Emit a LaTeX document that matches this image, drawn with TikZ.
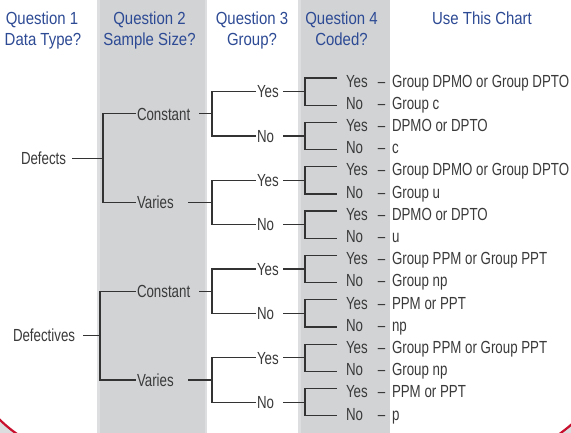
\documentclass[tikz,border=0pt]{standalone}
\usepackage{fontspec}
\setmainfont{Liberation Sans}[FakeStretch=0.76]
\newfontfamily\hdfont{Liberation Sans}[FakeStretch=0.855]
\definecolor{txt}{HTML}{3A3A3A}
\definecolor{lncol}{HTML}{333333}
\definecolor{hdblue}{HTML}{2D4A94}
\definecolor{colgray}{HTML}{D1D3D5}
\definecolor{coledge}{HTML}{DDDEE0}
\definecolor{cred}{HTML}{C8102E}
\definecolor{cornergray}{HTML}{DCDDDF}
\tikzset{
  lbl/.style={anchor=west, inner sep=0pt, outer sep=0pt, text height=12.5pt, text depth=0pt,
              font=\fontsize{17.5}{20}\selectfont, text=txt},
  dashlbl/.style={lbl, anchor=center},
  hd/.style={inner sep=0pt, outer sep=0pt, text height=12.5pt, text depth=0pt,
             font=\hdfont\fontsize{17.5}{20}\selectfont, text=hdblue},
  ln/.style={draw=lncol, line width=1.2pt}
}
\begin{document}
\begin{tikzpicture}[x=1pt,y=-1pt]
\useasboundingbox (0,0) rectangle (571,432);
\begin{scope}
\clip (0,0) rectangle (571,432);
% shaded columns
\fill[colgray] (97,-5) rectangle (207,440);
\fill[coledge] (97,-5) rectangle (99.5,440);
\fill[coledge] (204.5,-5) rectangle (207,440);
\fill[colgray] (298,-5) rectangle (390,440);
\fill[coledge] (298,-5) rectangle (300.5,440);
% red rounded border corners
\fill[cornergray] (-3,417) .. controls (5,425) and (11,430) .. (20,436) -- (-3,436) -- cycle;
\draw[cred, line width=2.2pt] (-3,417) .. controls (5,425) and (11,430) .. (20,436);
\fill[cornergray] (557,436) .. controls (563,431) and (568,428) .. (574,422) -- (574,436) -- cycle;
\draw[cred, line width=2.2pt] (557,436) .. controls (563,431) and (568,428) .. (574,422);
\end{scope}
% headers
\node[hd] (h1a) at (42,18) {Question 1};
\node[hd] (h1b) at (43,39) {Data Type?};
\node[hd] (h2a) at (149.5,18) {Question 2};
\node[hd] (h2b) at (149.5,39) {Sample Size?};
\node[hd] (h3a) at (252,18) {Question 3};
\node[hd] (h3b) at (252,39) {Group?};
\node[hd] (h4a) at (341.5,18) {Question 4};
\node[hd] (h4b) at (341.5,39) {Coded?};
\node[hd] (h5) at (482,18) {Use This Chart};
% Question 4 level and charts
\foreach \i/\ctop/\cbot in {0/Group DPMO or Group DPTO/Group c, 1/DPMO or DPTO/c,
    2/Group DPMO or Group DPTO/Group u, 3/DPMO or DPTO/u,
    4/Group PPM or Group PPT/Group np, 5/PPM or PPT/np,
    6/Group PPM or Group PPT/Group np, 7/PPM or PPT/p}{
  \pgfmathsetmacro\ya{81+44.35*\i}
  \pgfmathsetmacro\yb{\ya+22.3}
  \pgfmathsetmacro\ym{\ya+10.65}
  \node[lbl] (q4y\i) at (346,\ya) {Yes};
  \node[lbl] (q4n\i) at (346,\yb) {No};
  \node[dashlbl] (dy\i) at (381.5,\ya) {–};
  \node[dashlbl] (dn\i) at (381.5,\yb) {–};
  \node[lbl] (cy\i) at (392,\ya) {\ctop};
  \node[lbl] (cn\i) at (392,\yb) {\cbot};
  \coordinate (q4c\i) at (305,\ym);
  \draw[ln] ([shift={(-9pt,3pt)}]q4y\i.west) -| (q4c\i) |- ([shift={(-9pt,-2pt)}]q4n\i.west);
}
% Question 3 level
\foreach \j in {0,...,3}{
  \pgfmathtruncatemacro\a{2*\j}
  \pgfmathtruncatemacro\b{2*\j+1}
  \pgfmathsetmacro\ya{91.65+44.35*\a}
  \pgfmathsetmacro\yb{91.65+44.35*\b}
  \pgfmathsetmacro\ym{(\ya+\yb)/2}
  \node[lbl] (q3y\j) at (257,\ya) {Yes};
  \node[lbl] (q3n\j) at (257,\yb) {No};
  \coordinate (q3oy\j) at (283,\ya);
  \coordinate (q3on\j) at (283,\yb);
  \draw[ln] (q3oy\j) -- (q4c\a);
  \draw[ln] (q3on\j) -- (q4c\b);
  \coordinate (q3c\j) at (212,\ym);
  \draw[ln] ([xshift=-1.5pt]q3y\j.west) -| (q3c\j) |- ([xshift=-1.5pt]q3n\j.west);
}
% Question 2 and Question 1 levels
\foreach \k/\xv/\lab/\lx/\lo in {0/103/Defects/21/72, 1/100/Defectives/13/83}{
  \pgfmathtruncatemacro\a{2*\k}
  \pgfmathtruncatemacro\b{2*\k+1}
  \pgfmathsetmacro\ya{91.65+44.35*(2*\a+0.5)}
  \pgfmathsetmacro\yb{91.65+44.35*(2*\b+0.5)}
  \pgfmathsetmacro\ym{(\ya+\yb)/2}
  \node[lbl] (q2c\k) at (137,\ya) {Constant};
  \node[lbl] (q2v\k) at (137,\yb) {Varies};
  \coordinate (q2oc\k) at (199,\ya);
  \coordinate (q2ov\k) at (188,\yb);
  \draw[ln] (q2oc\k) -- (q3c\a);
  \draw[ln] (q2ov\k) -- (q3c\b);
  \coordinate (q2j\k) at (\xv,\ym);
  \draw[ln] ([xshift=-1pt]q2c\k.west) -| (q2j\k) |- ([xshift=-1pt]q2v\k.west);
  \node[lbl] (q1\k) at (\lx,\ym) {\lab};
  \coordinate (q1o\k) at (\lo,\ym);
  \draw[ln] (q1o\k) -- (q2j\k);
}
\end{tikzpicture}
\end{document}
